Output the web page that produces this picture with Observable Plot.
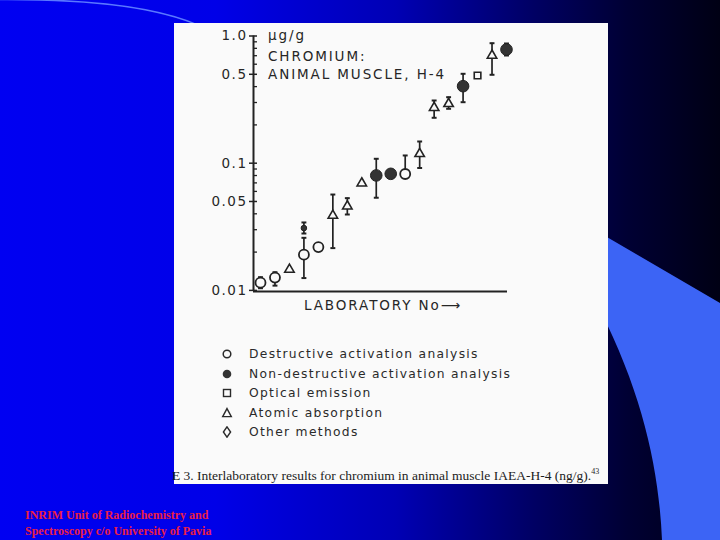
<!DOCTYPE html>
<html>
<head>
<meta charset="utf-8">
<script src="https://cdn.jsdelivr.net/npm/d3@7"></script>
<script src="https://cdn.jsdelivr.net/npm/@observablehq/plot@0.6"></script>
<style>
  body { margin: 0; }
  #slide { position: relative; width: 720px; height: 540px; overflow: hidden;
    background: linear-gradient(to right, #0000f2 0%, #0000e8 30%, #0000b4 55%, #000064 74%, #000034 87%, #000014 100%);
    font-family: "DejaVu Sans", sans-serif; }
  #bg { position: absolute; left: 0; top: 0; }
  #paper { position: absolute; left: 174px; top: 23px; width: 434px; height: 461px; background: #fafafa; }
  #chart { position: absolute; left: 0; top: 0; }
  #chart svg text { letter-spacing: 1.5px; }
  .t { position: absolute; white-space: nowrap; color: #262626; line-height: 18px; }
  .lab { font-size: 13.5px; letter-spacing: 1.9px; }
  .leg { font-size: 12.3px; letter-spacing: 1.3px; color: #2a2a2a; }
  .cap { font-family: "Liberation Serif", serif; font-size: 13.5px; color: #1c1c1c; letter-spacing: 0; }
  .foot { font-family: "Liberation Serif", serif; font-weight: bold; font-size: 12px; color: #ea1f45; line-height: 16px; }
  .sym { position: absolute; }
</style>
</head>
<body>
<div id="slide">
  <svg id="bg" width="720" height="540">
    <path d="M600,233 L720,303 L720,540 L662,540 C659,470 643,395 600,310 Z" fill="#3c64f5"/>
    <path d="M0,-0.5 C90,-1 160,8 200,26" fill="none" stroke="#5a78ff" stroke-width="1.6"/>
  </svg>
  <div id="paper"></div>
  <div id="chart"></div>
</div>
<script>
// ---- data ----
const labNo  = [1, 2, 3, 4, 4, 5, 6, 7, 8, 9, 10, 11, 12, 13, 14, 15, 16, 17, 18];
const method = ["D","D","A","D","N","D","A","A","A","N","N","D","A","A","A","N","O","A","N"];
const value  = [0.0115, 0.0126, 0.0146, 0.0191, 0.0309, 0.0219, 0.0388, 0.0459, 0.0696, 0.0801,
                0.0825, 0.0822, 0.1186, 0.273, 0.293, 0.403, 0.489, 0.703, 0.783];
const low    = [0.0104, 0.0109, null, 0.0125, 0.0280, null, 0.0215, 0.0395, null, 0.0535,
                null, null, 0.0917, 0.2275, 0.2677, 0.3017, null, 0.4955, 0.7026];
const high   = [0.0127, 0.0139, null, 0.0259, 0.0342, null, 0.0567, 0.0531, null, 0.1083,
                null, 0.1150, 0.1481, 0.3111, 0.3303, 0.5044, null, 0.8778, 0.8730];
const smallMark = [false,false,false,false,true,false,false,false,false,false,false,false,false,false,false,false,false,false,false];

const majorTicks  = [1.0, 0.5, 0.1, 0.05, 0.01];
const majorLabels = ["1.0", "0.5", "0.1", "0.05", "0.01"];
const minorTicks  = [0.9, 0.8, 0.7, 0.6, 0.4, 0.3, 0.2, 0.09, 0.08, 0.07, 0.06, 0.04, 0.03, 0.02];

const legendLabels = ["Destructive activation analysis", "Non-destructive activation analysis",
                      "Optical emission", "Atomic absorption", "Other methods"];
const legendKeys = ["D", "N", "O", "A", "M"];

const title = ["µg/g", "CHROMIUM:", "ANIMAL MUSCLE, H-4"];
const xLabel = "LABORATORY No⟶";
const caption = "E 3. Interlaboratory results for chromium in animal muscle IAEA-H-4 (ng/g).";
const captionSup = "43";
const footer = ["INRIM Unit of Radiochemistry and", "Spectroscopy c/o University of Pavia"];

// ---- table ----
const rows = labNo.map((lab, i) => ({lab, method: method[i], v: value[i], lo: low[i] ?? value[i], hi: high[i] ?? value[i], small: smallMark[i]}));
const errRows = rows.filter((d, i) => low[i] != null || high[i] != null);
const caps = [];
labNo.forEach((lab, i) => {
  if (high[i] != null) caps.push({lab, y: high[i]});
  if (low[i] != null) caps.push({lab, y: low[i]});
});

const xDomain = [0.516, 18.07];
const yDomain = [0.0098, 1.0];
const ink = "#222", paper = "#fafafa";

const plot = Plot.plot({
  width: 720, height: 540,
  marginLeft: 253, marginRight: 213, marginTop: 35.5, marginBottom: 249,
  style: {background: "transparent", fontFamily: "DejaVu Sans", overflow: "visible", color: "#262626"},
  x: {domain: xDomain, axis: null},
  y: {type: "log", domain: yDomain, label: null},
  marks: [
    Plot.ruleX([xDomain[0]], {stroke: ink, strokeWidth: 2}),
    Plot.ruleY([yDomain[0]], {stroke: ink, strokeWidth: 2}),
    Plot.axisY({ticks: minorTicks, tickSize: 4, dx: 4, tickFormat: () => "", stroke: ink, strokeWidth: 1.3}),
    Plot.axisY({ticks: majorTicks, tickSize: 8, dx: 4, tickPadding: 2, fontSize: 13.5,
      tickFormat: d => majorLabels[majorTicks.indexOf(d)], stroke: ink, strokeWidth: 1.5, fill: "#262626"}),
    Plot.ruleX(errRows, {x: "lab", y1: "lo", y2: "hi", stroke: ink, strokeWidth: 1.7}),
    Plot.link(caps, {x1: d => d.lab - 0.17, x2: d => d.lab + 0.17, y1: "y", y2: "y", stroke: ink, strokeWidth: 2}),
    Plot.dot(rows.filter(d => d.method === "D"), {x: "lab", y: "v", r: 5, symbol: "circle", fill: paper, stroke: ink, strokeWidth: 1.8}),
    Plot.dot(rows.filter(d => d.method === "N" && !d.small), {x: "lab", y: "v", r: 5.8, symbol: "circle", fill: "#333", stroke: ink, strokeWidth: 1}),
    Plot.dot(rows.filter(d => d.method === "N" && d.small), {x: "lab", y: "v", r: 2.8, symbol: "circle", fill: "#333", stroke: ink, strokeWidth: 1}),
    Plot.dot(rows.filter(d => d.method === "A"), {x: "lab", y: "v", r: 4.5, symbol: "triangle2", fill: paper, stroke: ink, strokeWidth: 1.6}),
    Plot.dot(rows.filter(d => d.method === "O"), {x: "lab", y: "v", r: 4.2, symbol: "square2", fill: paper, stroke: ink, strokeWidth: 1.6})
  ]
});
document.getElementById("chart").appendChild(plot);

// ---- texts (HTML) ----
const slide = document.getElementById("slide");
function addText(txt, cls, left, centerY, lh = 18) {
  const el = document.createElement("div");
  el.className = "t " + cls;
  el.style.left = left + "px";
  el.style.top = (centerY - lh / 2) + "px";
  el.textContent = txt;
  slide.appendChild(el);
  return el;
}
const titleY = [35, 56, 74];
title.forEach((t, i) => addText(t, "lab", 268, titleY[i]));
addText(xLabel, "lab", 304, 305);

// legend
const legY = [354, 373.5, 393, 412.5, 432];
const symSvg = {
  D: '<circle cx="6" cy="6" r="3.8" fill="none" stroke="#2a2a2a" stroke-width="1.5"/>',
  N: '<circle cx="6" cy="6" r="4.3" fill="#333"/>',
  O: '<rect x="2.5" y="2.5" width="7" height="7" fill="none" stroke="#2a2a2a" stroke-width="1.4"/>',
  A: '<path d="M6,1.6 L10.3,9.6 L1.7,9.6 Z" fill="none" stroke="#2a2a2a" stroke-width="1.4"/>',
  M: '<path d="M6,0.8 L9.6,6 L6,11.2 L2.4,6 Z" fill="none" stroke="#2a2a2a" stroke-width="1.4"/>'
};
legendLabels.forEach((lbl, i) => {
  addText(lbl, "leg", 249, legY[i]);
  const s = document.createElementNS("http://www.w3.org/2000/svg", "svg");
  s.setAttribute("width", 12); s.setAttribute("height", 12);
  s.setAttribute("class", "sym");
  s.style.left = "221px"; s.style.top = (legY[i] - 6) + "px";
  s.innerHTML = symSvg[legendKeys[i]];
  slide.appendChild(s);
});

// caption
const capEl = addText(caption, "cap", 172, 472);
const sup = document.createElement("sup");
sup.textContent = captionSup;
sup.style.fontSize = "8px";
capEl.appendChild(sup);

// footer
footer.forEach((t, i) => addText(t, "foot", 25, 515 + i * 16, 16));
</script>
</body>
</html>
